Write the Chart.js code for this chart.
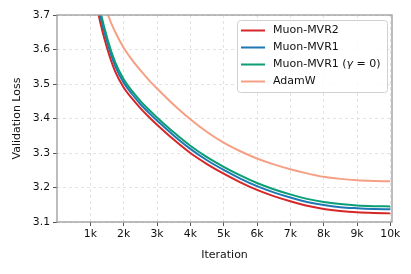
<!DOCTYPE html>
<html><head><meta charset="utf-8">
<script src="https://cdn.jsdelivr.net/npm/chart.js@4"></script>
<style>html,body{margin:0;padding:0;background:#fff}#wrap{width:411px;height:274px;position:relative}</style>
</head><body><div id="wrap"><canvas id="c" width="411" height="274"></canvas></div>
<script>
// ---- data ----
const iterations = [1000,1250,1500,1750,2000,2250,2500,2750,3000,3500,4000,4500,5000,5500,6000,6500,7000,7500,8000,8500,9000,9500,10000];
const muonMVR2   = [3.84,3.70,3.605,3.535,3.49,3.458,3.43,3.405,3.382,3.339,3.30,3.268,3.24,3.215,3.193,3.175,3.16,3.147,3.138,3.132,3.128,3.126,3.125];
const muonMVR1   = [3.87,3.72,3.623,3.551,3.504,3.471,3.442,3.417,3.394,3.351,3.312,3.279,3.251,3.226,3.204,3.186,3.171,3.158,3.149,3.143,3.140,3.138,3.137];
const muonMVR1g0 = [3.89,3.735,3.635,3.562,3.514,3.48,3.451,3.426,3.403,3.36,3.321,3.288,3.26,3.235,3.213,3.195,3.18,3.167,3.158,3.152,3.148,3.146,3.145];
const adamW      = [3.95,3.82,3.71,3.65,3.605,3.57,3.54,3.512,3.487,3.44,3.398,3.361,3.330,3.305,3.284,3.267,3.253,3.241,3.231,3.225,3.221,3.219,3.218];
const seriesNames = ['Muon-MVR2','Muon-MVR1','Muon-MVR1 (γ = 0)','AdamW'];
const xTicks = [1000,2000,3000,4000,5000,6000,7000,8000,9000,10000];
const xTickLabels = ['1k','2k','3k','4k','5k','6k','7k','8k','9k','10k'];
const yTicks = [3.1,3.2,3.3,3.4,3.5,3.6,3.7];

const colors = ['#d62728','#1f77b4','#0a9e74','#f5a084'];
const seriesValues = [muonMVR2, muonMVR1, muonMVR1g0, adamW];
const drawOrder = [3,2,1,0];

const FONT = "'DejaVu Sans', sans-serif";

const datasets = seriesValues.map((vals,i)=>({
  label: seriesNames[i],
  data: iterations.map((x,j)=>({x:x, y:vals[j]})),
  borderColor: colors[i],
  backgroundColor: colors[i],
  borderWidth: 2,
  pointRadius: 0,
  fill: false,
  cubicInterpolationMode: 'monotone',
  order: drawOrder[i]
}));

const framePlugin = {
  id: 'frame',
  afterDatasetsDraw(chart){
    const {ctx, chartArea:a} = chart;
    ctx.save();
    ctx.strokeStyle = '#9a9a9a';
    ctx.lineWidth = 1.3;
    ctx.strokeRect(a.left, a.top, a.right - a.left, a.bottom - a.top);
    ctx.restore();
  },
  afterDraw(chart){
    const ctx = chart.ctx;
    const bx = 237.5, by = 20.5, bw = 150, bh = 72, r = 3;
    ctx.save();
    ctx.fillStyle = 'rgba(255,255,255,0.85)';
    ctx.strokeStyle = '#d0d0d0';
    ctx.lineWidth = 1;
    ctx.beginPath();
    ctx.moveTo(bx+r,by); ctx.lineTo(bx+bw-r,by); ctx.arcTo(bx+bw,by,bx+bw,by+r,r);
    ctx.lineTo(bx+bw,by+bh-r); ctx.arcTo(bx+bw,by+bh,bx+bw-r,by+bh,r);
    ctx.lineTo(bx+r,by+bh); ctx.arcTo(bx,by+bh,bx,by+bh-r,r);
    ctx.lineTo(bx,by+r); ctx.arcTo(bx,by,bx+r,by,r);
    ctx.closePath(); ctx.fill(); ctx.stroke();
    const rows = [30.5, 47.5, 64.5, 81.5];
    ctx.textBaseline = 'middle';
    ctx.fillStyle = '#111';
    seriesNames.forEach((name,i)=>{
      const y = rows[i];
      ctx.strokeStyle = colors[i];
      ctx.lineWidth = 2;
      ctx.beginPath(); ctx.moveTo(241, y); ctx.lineTo(265, y); ctx.stroke();
      ctx.font = "11px " + FONT;
      let x = 273;
      if (name.indexOf('γ') >= 0) {
        const parts = name.split('γ');
        ctx.fillText(parts[0], x, y); x += ctx.measureText(parts[0]).width;
        ctx.font = "italic 11px " + FONT;
        ctx.fillText('γ', x, y); x += ctx.measureText('γ').width;
        ctx.font = "11px " + FONT;
        ctx.fillText(parts[1], x, y);
      } else {
        ctx.fillText(name, x, y);
      }
    });
    ctx.restore();
  }
};

new Chart(document.getElementById('c'), {
  type: 'line',
  data: { datasets },
  options: {
    responsive: false,
    animation: false,
    devicePixelRatio: 1,
    layout: { padding: { left: 0, right: 19, top: 15, bottom: 0 } },
    plugins: { legend: { display: false }, tooltip: { enabled: false } },
    scales: {
      x: {
        type: 'linear', min: 0, max: 10050,
        afterBuildTicks: (s)=>{ s.ticks = xTicks.map(v=>({value:v})); },
        afterFit: (s)=>{ s.height = 52; },
        ticks: {
          callback: (v)=>{ const k = xTicks.indexOf(v); return k>=0 ? xTickLabels[k] : ''; },
          color: '#111', font: { family: FONT, size: 10.8 }, padding: 2, maxRotation: 0, autoSkip: false
        },
        grid: { color: '#dcdcdc', lineWidth: 0.8, tickColor: '#555', tickLength: 4, tickWidth: 1 },
        border: { display: false, dash: [3,3] },
        title: { display: true, text: 'Iteration', color: '#111', font: { family: FONT, size: 11 }, padding: { top: 0, bottom: 12.4 } }
      },
      y: {
        type: 'linear', min: 3.1, max: 3.7,
        afterBuildTicks: (s)=>{ s.ticks = yTicks.map(v=>({value:v})); },
        afterFit: (s)=>{ s.width = 57; },
        ticks: {
          callback: (v)=> Number(v).toFixed(1),
          color: '#111', font: { family: FONT, size: 10.8 }, padding: 3
        },
        grid: { color: '#dcdcdc', lineWidth: 0.8, tickColor: '#555', tickLength: 4, tickWidth: 1 },
        border: { display: false, dash: [3,3] },
        title: { display: true, text: 'Validation Loss', color: '#111', font: { family: FONT, size: 11 }, padding: { top: 10.4, bottom: 0 } }
      }
    }
  },
  plugins: [framePlugin]
});
</script>
</body></html>
